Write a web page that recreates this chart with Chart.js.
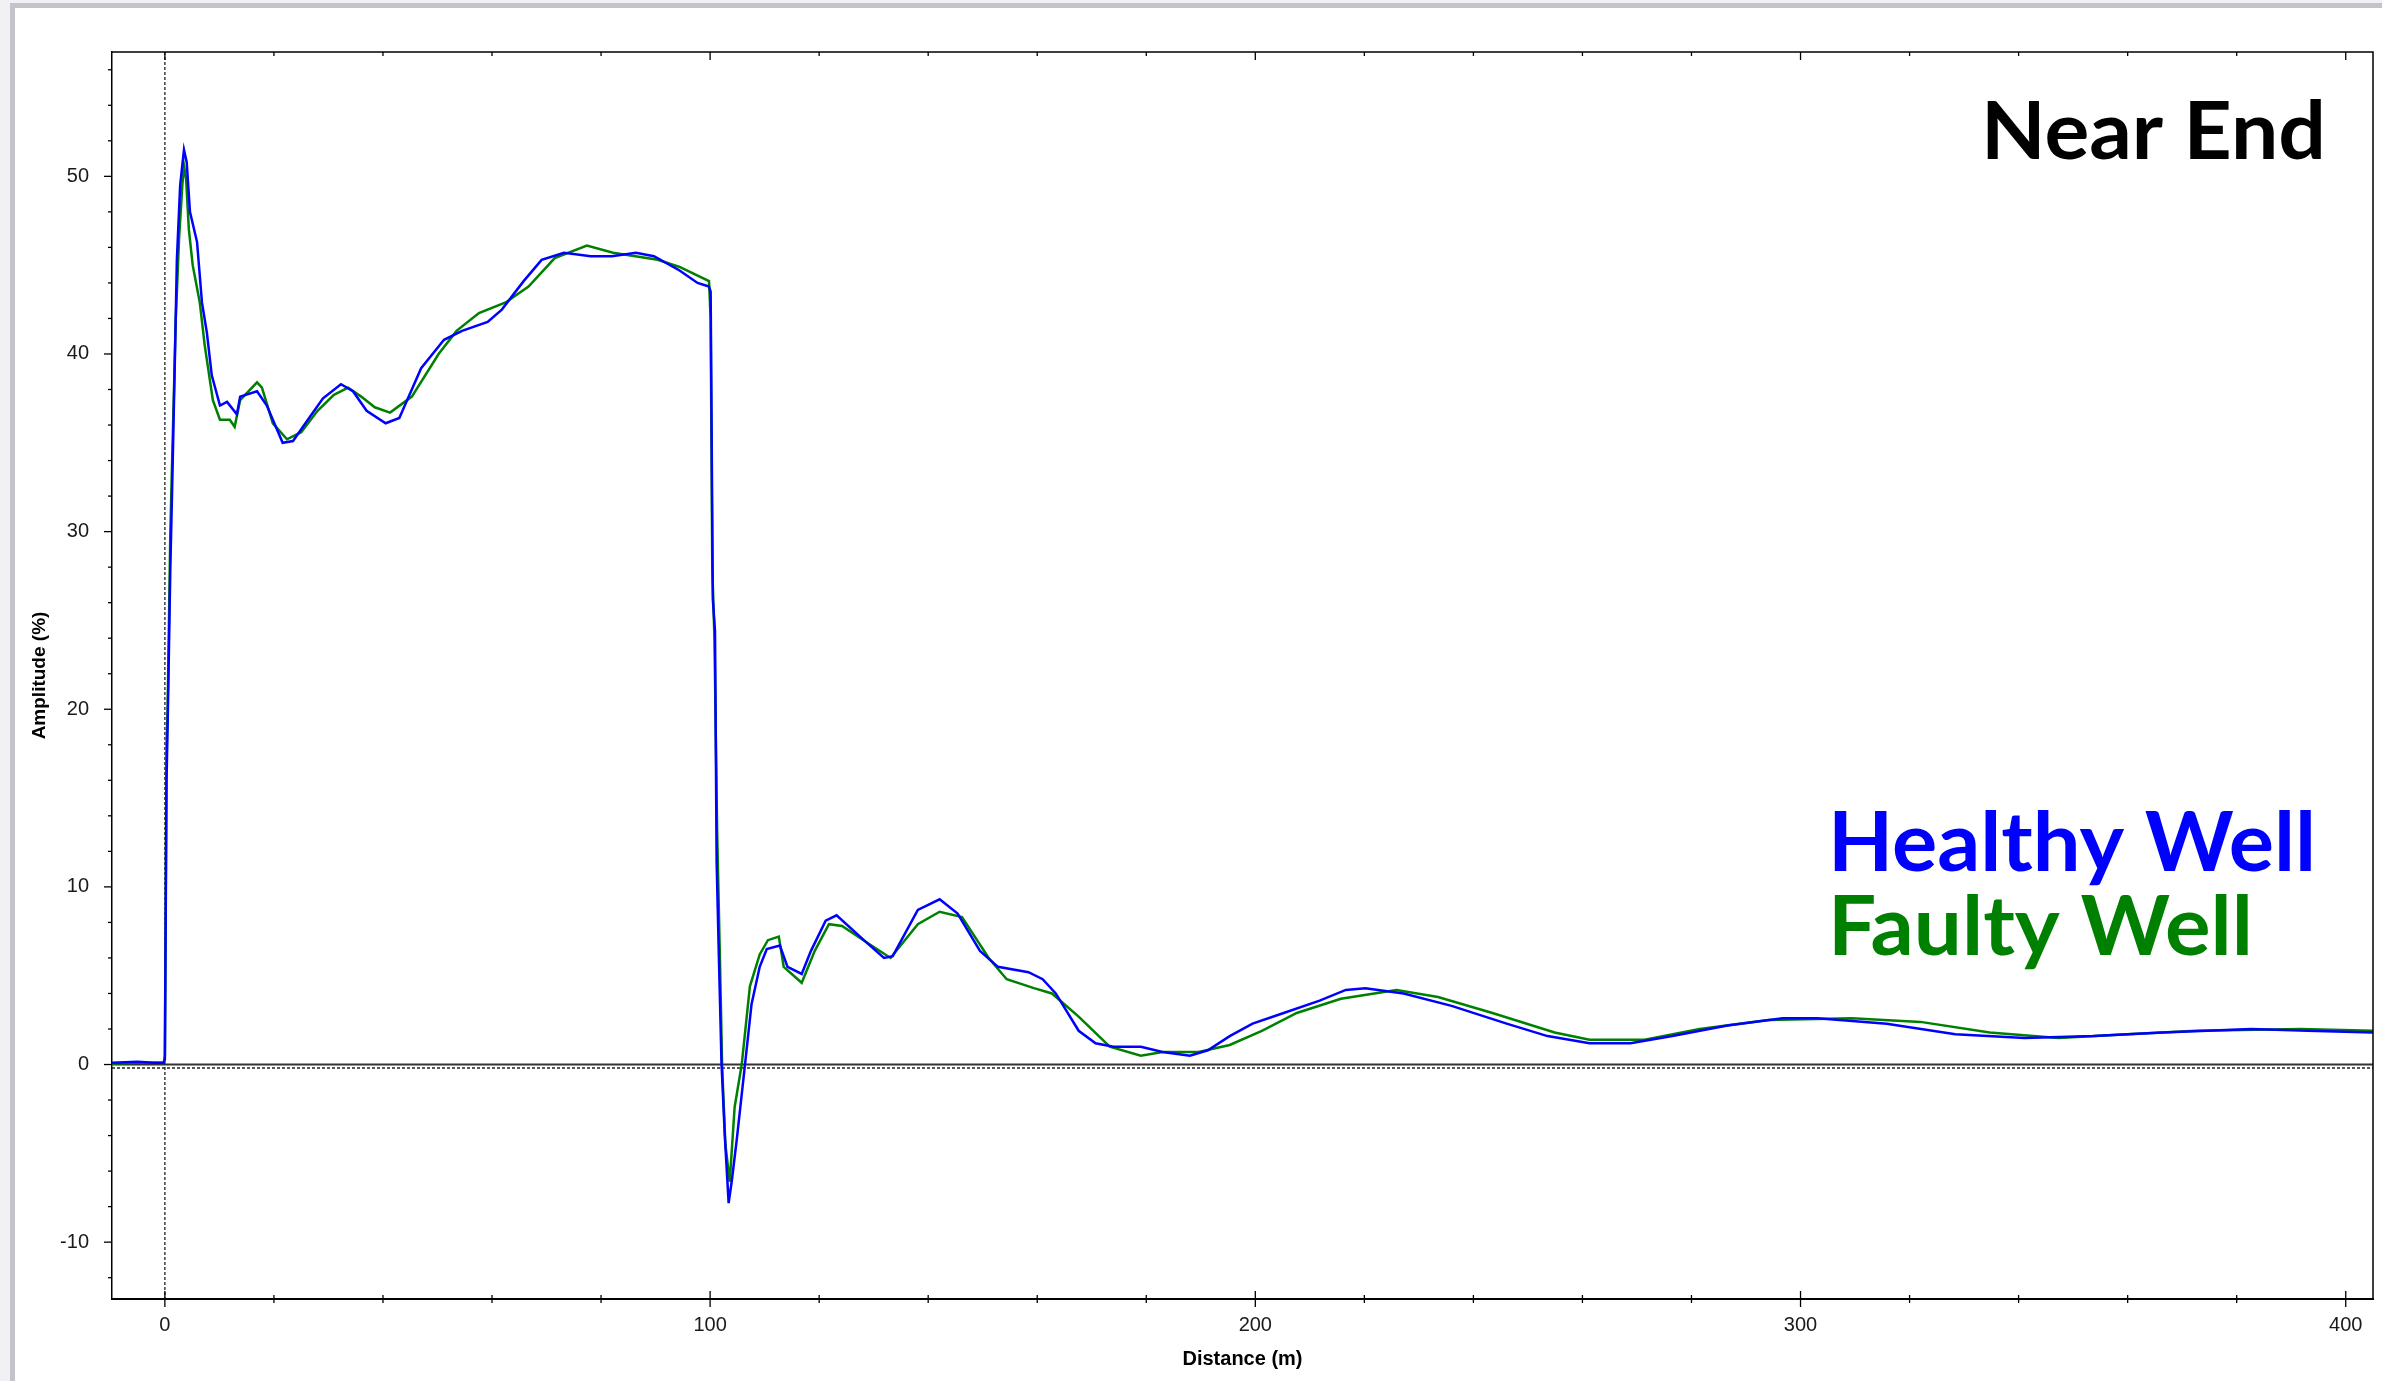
<!DOCTYPE html>
<html>
<head>
<meta charset="utf-8">
<title>Near End</title>
<script src="https://cdn.jsdelivr.net/npm/chart.js@4.4.1/dist/chart.umd.min.js"></script>
<style>
html, body { margin: 0; padding: 0; background: #f1f1f4; overflow: hidden; }
#panel { position: absolute; left: 10px; top: 3px; width: 2367px; height: 1373px; background: #fff;
         border-left: 5px solid #c3c3cb; border-top: 5px solid #c3c3cb; }
#wrap { position: absolute; left: 0; top: 0; width: 2382px; height: 1381px; }
</style>
</head>
<body>
<div id="panel"></div>
<div id="wrap"><canvas id="tdr" width="2382" height="1381"></canvas></div>
<script>
// axis limits (m, %)
const X_MIN = -9.7, X_MAX = 405;
const Y_MIN = -13.2, Y_MAX = 57;

// Healthy well trace (blue)
const healthyDist = [-9.7, -5, -2, -0.2, 0, 0.3, 0.5, 1.0, 1.3, 1.8, 2.2, 2.8, 3.5, 4.0, 4.6, 5.9, 6.8, 7.7, 8.6,
  10.1, 11.4, 13.2, 13.8, 16.9, 18.7, 21.6, 23.5, 26, 29, 32.3, 34.5, 37, 40.5, 43, 47.0, 51.2, 54.5, 59.2, 61.8,
  65.8, 69.1, 73.2, 78.1, 82, 86.4, 89.7, 94.4, 97.7, 99.8, 100.1, 100.5, 100.9, 101.2, 101.6, 102.1, 102.7, 103.4,
  104.0, 104.9, 106.4, 107.6, 109.1, 110.4, 112.8, 114.2, 116.8, 118.5, 121.2, 123.2, 128.2, 131.9, 133.5, 138.1,
  142.1, 145.4, 149.5, 152.8, 158.4, 161.0, 163.4, 167.6, 170.7, 174.0, 179.0, 183.0, 188.0, 191.3, 195.3, 199.5,
  205.2, 211.8, 216.6, 220.2, 227.2, 236.0, 246.1, 253.6, 261.3, 268.8, 276.5, 286.6, 296.7, 303.1, 315.8, 328.4,
  341.1, 353.7, 366.4, 382.7, 393.0, 405];
const healthyAmp = [0.1, 0.15, 0.1, 0.1, 0.3, 16, 19, 28, 32, 39.2, 45.3, 49.5, 51.5, 50.8, 48.0, 46.3, 42.9, 41.2, 38.8,
  37.1, 37.3, 36.6, 37.6, 37.9, 37.1, 35.0, 35.1, 36.2, 37.5, 38.3, 37.9, 36.8, 36.1, 36.4, 39.2, 40.8, 41.3, 41.8, 42.5,
  44.1, 45.3, 45.7, 45.5, 45.5, 45.7, 45.5, 44.7, 44.0, 43.8, 43.5, 26.2, 24.4, 11.4, 6.2, 0, -4, -7.8,
  -6.5, -4.2, 0, 3.4, 5.5, 6.5, 6.7, 5.5, 5.1, 6.4, 8.1, 8.4, 7.0, 6.0, 6.1, 8.7,
  9.3, 8.5, 6.4, 5.5, 5.2, 4.8, 4.0, 1.9, 1.2, 1.0, 1.0, 0.7, 0.5, 0.8, 1.6, 2.3,
  2.9, 3.6, 4.2, 4.3, 4.0, 3.3, 2.3, 1.6, 1.2, 1.2, 1.6, 2.2, 2.6, 2.6, 2.3, 1.7,
  1.5, 1.6, 1.8, 2.0, 1.9, 1.8];

// Faulty well trace (green)
const faultyDist = [-9.7, -5, -0.2, 0, 0.3, 0.5, 1.0, 1.5, 2.0, 2.6, 3.2, 3.5, 3.9, 4.4, 5.1, 6.4, 7.3, 8.8, 10.1,
  11.9, 12.8, 13.8, 16.9, 17.8, 19.8, 22.4, 25, 28, 31, 33.6, 36, 38.5, 41.3, 45.3, 50.2, 53.5, 57.6, 62.5, 66.7,
  71.5, 77.4, 82.2, 90.4, 94.4, 99.8, 100.1, 100.4, 100.8, 101.3, 101.8, 102.2, 102.8, 103.6, 104.5, 105.8, 107.3,
  109.1, 110.6, 112.6, 113.5, 116.8, 119.2, 121.8, 124.2, 129.1, 133.1, 138.1, 142.1, 146.2, 151.1, 154.4, 159.4,
  162.7, 167.6, 173.3, 179.0, 183.0, 189.6, 195.3, 201.2, 207.6, 215.7, 225.9, 233.5, 243.5, 254.9, 261.3, 271.4,
  281.5, 294.1, 309.4, 322.0, 334.7, 347.3, 360.0, 372.6, 391.7, 405];
const faultyAmp = [0.05, 0.1, 0.1, 0.5, 18, 20, 30, 36, 42, 46.5, 49.5, 50.6, 49.8, 47.0, 45.0, 42.9, 40.5, 37.4, 36.3,
  36.3, 35.9, 37.4, 38.4, 38.1, 36.1, 35.2, 35.6, 36.8, 37.7, 38.1, 37.6, 37.0, 36.7, 37.6, 40.0, 41.3, 42.3, 42.9, 43.8,
  45.4, 46.1, 45.7, 45.3, 44.9, 44.1, 42, 28, 24, 13, 6, 0, -4.5, -6.6, -2.4, 0, 4.4,
  6.2, 7.0, 7.2, 5.5, 4.6, 6.4, 7.9, 7.8, 6.8, 6.0, 7.9, 8.6, 8.3, 6.0, 4.8, 4.3,
  4.0, 2.7, 1.0, 0.5, 0.7, 0.7, 1.1, 1.9, 2.9, 3.7, 4.2, 3.8, 2.9, 1.8, 1.4, 1.4,
  2.0, 2.5, 2.6, 2.4, 1.8, 1.5, 1.7, 1.9, 2.0, 1.9];

const AXIS_FONT = '"Liberation Sans", Arial, sans-serif';
const NOTE_FONT = 'Lato, "Open Sans", sans-serif';

function pts(xs, ys) {
  return xs.map((x, i) => ({x: x, y: ys[i]}));
}

// draws text squeezed/stretched to a given width, left aligned at baseline
function fitText(ctx, txt, left, base, width, font, color) {
  ctx.font = font;
  const w = ctx.measureText(txt).width;
  ctx.save();
  ctx.translate(left, base);
  ctx.scale(width / w, 1);
  ctx.fillStyle = color;
  ctx.textBaseline = 'alphabetic';
  ctx.textAlign = 'left';
  ctx.fillText(txt, 0, 0);
  ctx.restore();
}

const framePlugin = {
  id: 'frame',
  beforeDatasetsDraw(chart) {
    const {ctx, chartArea: a, scales: {x, y}} = chart;
    const x0 = x.getPixelForValue(0), y0 = y.getPixelForValue(0);
    ctx.save();
    ctx.strokeStyle = '#222';
    ctx.lineWidth = 1.3;
    ctx.setLineDash([3, 2]);
    ctx.beginPath(); ctx.moveTo(x0, a.top); ctx.lineTo(x0, a.bottom); ctx.stroke();
    ctx.beginPath(); ctx.moveTo(a.left, y0 + 3.5); ctx.lineTo(a.right, y0 + 3.5); ctx.stroke();
    ctx.setLineDash([]);
    ctx.strokeStyle = '#333';
    ctx.lineWidth = 2;
    ctx.beginPath(); ctx.moveTo(a.left, y0); ctx.lineTo(a.right, y0); ctx.stroke();
    ctx.restore();
  },
  afterDraw(chart) {
    const {ctx, chartArea: a, scales: {x, y}} = chart;
    ctx.save();
    ctx.strokeStyle = '#000';
    ctx.lineWidth = 1.5;
    // top and right frame
    ctx.beginPath();
    ctx.moveTo(a.left, a.top); ctx.lineTo(a.right, a.top); ctx.lineTo(a.right, a.bottom);
    ctx.stroke();
    // tick marks
    ctx.lineWidth = 1.3;
    y.ticks.forEach(t => {
      const py = y.getPixelForValue(t.value);
      const len = t.value % 10 === 0 ? 8 : 4;
      ctx.beginPath(); ctx.moveTo(a.left, py); ctx.lineTo(a.left - len, py); ctx.stroke();
    });
    x.ticks.forEach(t => {
      const px = x.getPixelForValue(t.value);
      const len = t.value % 100 === 0 ? 8 : 4;
      ctx.beginPath(); ctx.moveTo(px, a.bottom - len); ctx.lineTo(px, a.bottom + len); ctx.stroke();
      ctx.beginPath(); ctx.moveTo(px, a.top); ctx.lineTo(px, a.top + len); ctx.stroke();
    });
    ctx.restore();
    // annotations
    fitText(ctx, 'Near End', 1981, 159, 345, 'bold 80px ' + NOTE_FONT, '#000');
    fitText(ctx, 'Healthy Well', 1828, 871, 488, 'bold 82px ' + NOTE_FONT, '#0000ff');
    fitText(ctx, 'Faulty Well', 1828, 955, 425, 'bold 82px ' + NOTE_FONT, '#008000');
  }
};

new Chart(document.getElementById('tdr'), {
  type: 'line',
  data: {
    datasets: [
      { label: 'Healthy Well', data: pts(healthyDist, healthyAmp), borderColor: '#0000ff',
        borderWidth: 2.5, pointRadius: 0, tension: 0, fill: false },
      { label: 'Faulty Well', data: pts(faultyDist, faultyAmp), borderColor: '#008000',
        borderWidth: 2.5, pointRadius: 0, tension: 0, fill: false }
    ]
  },
  options: {
    responsive: false,
    animation: false,
    devicePixelRatio: 1,
    layout: { padding: { top: 52, right: 9, left: 0, bottom: 0 } },
    plugins: { legend: { display: false }, tooltip: { enabled: false } },
    scales: {
      x: {
        type: 'linear', min: X_MIN, max: X_MAX,
        afterFit: s => { s.height = 82; },
        grid: { display: false, drawTicks: false },
        border: { display: true, color: '#000', width: 2 },
        ticks: {
          stepSize: 20, includeBounds: false, autoSkip: false, maxRotation: 0, padding: 14,
          color: '#1a1a1a', font: { family: AXIS_FONT, size: 20 },
          callback: v => (v % 100 === 0 ? String(v) : '')
        },
        title: { display: true, text: 'Distance (m)', color: '#000',
          font: { family: AXIS_FONT, size: 20, weight: 'bold' }, padding: { top: 10, bottom: 10 } }
      },
      y: {
        type: 'linear', min: Y_MIN, max: Y_MAX,
        afterFit: s => { s.width = 112; },
        grid: { display: false, drawTicks: false },
        border: { display: true, color: '#000', width: 1.5 },
        ticks: {
          stepSize: 2, includeBounds: false, autoSkip: false, padding: 23,
          color: '#1a1a1a', font: { family: AXIS_FONT, size: 20 },
          callback: v => (v % 10 === 0 ? String(v) : '')
        },
        title: { display: true, text: 'Amplitude (%)', color: '#000',
          font: { family: AXIS_FONT, size: 19, weight: 'bold' }, padding: { top: 28, bottom: 28 } }
      }
    }
  },
  plugins: [framePlugin]
});
</script>
</body>
</html>
